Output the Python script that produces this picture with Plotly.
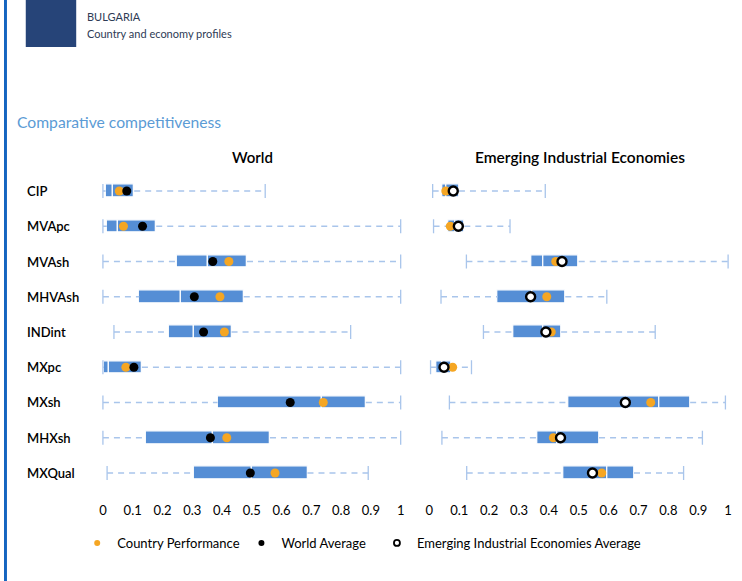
import plotly.graph_objects as go

W, H = 742, 581

categories = ["CIP", "MVApc", "MVAsh", "MHVAsh", "INDint", "MXpc", "MXsh", "MHXsh", "MXQual"]

# World distribution
world_min = [0.0, 0.0, 0.0, 0.0, 0.037, 0.0, 0.0, 0.0, 0.014]
world_q1 = [0.009, 0.013, 0.249, 0.122, 0.220, 0.003, 0.385, 0.143, 0.306]
world_med = [0.033, 0.052, 0.352, 0.262, 0.305, 0.021, 0.734, 0.368, 0.500]
world_q3 = [0.105, 0.179, 0.484, 0.473, 0.432, 0.131, 0.883, 0.561, 0.687]
world_max = [0.545, 1.0, 1.0, 1.0, 0.832, 1.0, 1.0, 1.0, 0.891]
world_country = [0.055, 0.069, 0.423, 0.393, 0.408, 0.077, 0.740, 0.416, 0.578]
world_avg = [0.080, 0.133, 0.369, 0.307, 0.338, 0.104, 0.629, 0.361, 0.495]

# Emerging Industrial Economies distribution
eie_min = [0.011, 0.014, 0.124, 0.039, 0.181, 0.004, 0.067, 0.042, 0.125]
eie_q1 = [0.042, 0.064, 0.342, 0.229, 0.282, 0.022, 0.466, 0.361, 0.447]
eie_med = [0.057, 0.088, 0.381, 0.344, 0.381, 0.045, 0.769, 0.430, 0.596]
eie_q3 = [0.099, 0.117, 0.500, 0.455, 0.441, 0.072, 0.873, 0.568, 0.685]
eie_max = [0.388, 0.270, 1.0, 0.594, 0.756, 0.141, 0.991, 0.914, 0.851]
eie_country = [0.055, 0.070, 0.423, 0.393, 0.408, 0.078, 0.741, 0.415, 0.577]
eie_avg = [0.080, 0.097, 0.444, 0.339, 0.390, 0.049, 0.656, 0.439, 0.546]

tick_vals = [0, 0.1, 0.2, 0.3, 0.4, 0.5, 0.6, 0.7, 0.8, 0.9, 1]
tick_text = ["0", "0.1", "0.2", "0.3", "0.4", "0.5", "0.6", "0.7", "0.8", "0.9", "1"]

BOX = "#558ED5"
WHISK = "#A9C5EB"
ORANGE = "#F5A623"
FONT = "Lato"


def px(x):
    return x / W


def py(y):
    return 1 - y / H


fig = go.Figure()


def add_panel(xa, ya, mn, q1, md, q3, mx, country, avg, avg_open):
    xs, ys = [], []
    for c, a, b, d, e in zip(categories, mn, q1, q3, mx):
        xs += [a, b, None, d, e, None]
        ys += [c, c, None, c, c, None]
    fig.add_trace(go.Scatter(x=xs, y=ys, mode="lines", xaxis=xa, yaxis=ya,
                             line=dict(color=WHISK, width=1.3, dash="6px,5px"),
                             showlegend=False, hoverinfo="skip", cliponaxis=False))
    cx, cy = [], []
    for c, a, e in zip(categories, mn, mx):
        cx += [a, e]
        cy += [c, c]
    fig.add_trace(go.Scatter(x=cx, y=cy, mode="markers", xaxis=xa, yaxis=ya,
                             marker=dict(symbol="line-ns-open", size=10, color=WHISK,
                                         line=dict(color=WHISK, width=1.3)),
                             showlegend=False, hoverinfo="skip", cliponaxis=False))
    fig.add_trace(go.Bar(y=categories, base=q1, x=[m - a for m, a in zip(md, q1)],
                         orientation="h", width=0.36, xaxis=xa, yaxis=ya,
                         marker=dict(color=BOX, line=dict(color="white", width=1.2)),
                         showlegend=False, hoverinfo="skip"))
    fig.add_trace(go.Bar(y=categories, base=md, x=[b - m for b, m in zip(q3, md)],
                         orientation="h", width=0.36, xaxis=xa, yaxis=ya,
                         marker=dict(color=BOX, line=dict(color="white", width=1.2)),
                         showlegend=False, hoverinfo="skip"))
    fig.add_trace(go.Scatter(x=country, y=categories, mode="markers", xaxis=xa, yaxis=ya,
                             marker=dict(color=ORANGE, size=9),
                             showlegend=False, cliponaxis=False))
    if avg_open:
        fig.add_trace(go.Scatter(x=avg, y=categories, mode="markers", xaxis=xa, yaxis=ya,
                                 marker=dict(color="white", size=9, line=dict(color="black", width=2.4)),
                                 showlegend=False, cliponaxis=False))
    else:
        fig.add_trace(go.Scatter(x=avg, y=categories, mode="markers", xaxis=xa, yaxis=ya,
                                 marker=dict(color="black", size=9),
                                 showlegend=False, cliponaxis=False))


add_panel("x", "y", world_min, world_q1, world_med, world_q3, world_max,
          world_country, world_avg, False)
add_panel("x2", "y2", eie_min, eie_q1, eie_med, eie_q3, eie_max,
          eie_country, eie_avg, True)

# legend entries
fig.add_trace(go.Scatter(x=[None], y=[None], mode="markers", name="Country Performance",
                         marker=dict(color=ORANGE, size=6), legend="legend"))
fig.add_trace(go.Scatter(x=[None], y=[None], mode="markers", name="World Average",
                         marker=dict(color="black", size=6), legend="legend2"))
fig.add_trace(go.Scatter(x=[None], y=[None], mode="markers",
                         name="Emerging Industrial Economies Average",
                         marker=dict(color="white", size=6, line=dict(color="black", width=1.8)),
                         legend="legend3"))

ydom = [py(490.6), py(173.4)]
xcommon = dict(range=[0, 1], showgrid=False, zeroline=False, showline=False,
               ticks="", tickvals=tick_vals, ticktext=tick_text,
               tickfont=dict(family=FONT, size=13, color="black"),
               ticklabelstandoff=10, fixedrange=True)
ycommon = dict(range=[8.5, -0.5], showgrid=False, zeroline=False, showline=False,
               showticklabels=False, ticks="", domain=ydom, type="category",
               categoryorder="array", categoryarray=categories, fixedrange=True)

leg = dict(orientation="h", yanchor="middle", xanchor="left", bgcolor="rgba(0,0,0,0)",
           font=dict(family=FONT, size=13, color="black"), itemwidth=30)

annotations = []
for c in categories:
    annotations.append(dict(x=px(21), y=c, xref="paper", yref="y", text=c, showarrow=False,
                            xanchor="left", yanchor="middle",
                            font=dict(family=FONT, size=13, color="black", weight=600)))
annotations += [
    dict(x=px(251.5), y=py(157), xref="paper", yref="paper", text="World", showarrow=False,
         xanchor="center", yanchor="middle", font=dict(family=FONT, size=15, color="black", weight=600)),
    dict(x=px(582), y=py(157), xref="paper", yref="paper", text="Emerging Industrial Economies",
         showarrow=False, xanchor="center", yanchor="middle",
         font=dict(family=FONT, size=15.5, color="black", weight=600)),
    dict(x=px(11), y=py(122), xref="paper", yref="paper", text="Comparative competitiveness",
         showarrow=False, xanchor="left", yanchor="middle",
         font=dict(family=FONT, size=15.7, color="#5B9BD5")),
    dict(x=px(82), y=py(16), xref="paper", yref="paper", text="BULGARIA",
         showarrow=False, xanchor="left", yanchor="middle",
         font=dict(family=FONT, size=11, color="#2E3B55")),
    dict(x=px(82), y=py(33), xref="paper", yref="paper", text="Country and economy profiles",
         showarrow=False, xanchor="left", yanchor="middle",
         font=dict(family=FONT, size=11, color="#2E3B55")),
]

shapes = [
    dict(type="rect", xref="paper", yref="paper", x0=0, x1=px(3), y0=0, y1=1,
         fillcolor="#1565C0", line=dict(width=0), layer="below"),
    dict(type="rect", xref="paper", yref="paper", x0=px(22), x1=px(73), y0=py(47), y1=1,
         fillcolor="#264478", line=dict(width=0), layer="below"),
]

fig.update_layout(
    width=W, height=H, margin=dict(l=0, r=0, t=0, b=0),
    paper_bgcolor="white", plot_bgcolor="rgba(0,0,0,0)",
    barmode="overlay", bargap=0,
    xaxis=dict(domain=[px(100), px(401)], anchor="y", **xcommon),
    xaxis2=dict(domain=[px(430), px(732)], anchor="y2", **xcommon),
    yaxis=dict(anchor="x", **ycommon),
    yaxis2=dict(anchor="x2", **ycommon),
    legend=dict(x=px(74), y=py(543), **leg),
    legend2=dict(x=px(240), y=py(543), **leg),
    legend3=dict(x=px(377), y=py(543), **leg),
    annotations=annotations, shapes=shapes,
    font=dict(family=FONT),
)

fig.write_html("out.html", config={"displayModeBar": False},
               post_script="document.body.style.margin='0';document.body.style.overflow='hidden';")
